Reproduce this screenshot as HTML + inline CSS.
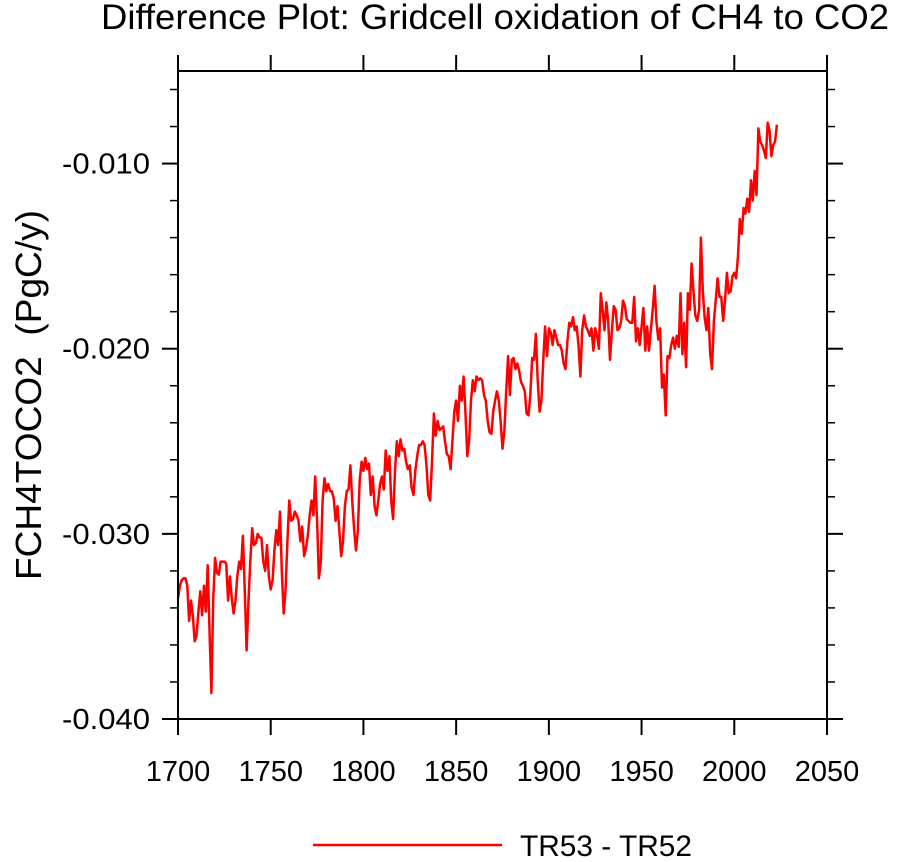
<!DOCTYPE html>
<html><head><meta charset="utf-8"><style>
body{margin:0;background:#fff;}
svg text{font-family:"Liberation Sans",Arial,sans-serif;fill:#000;}
</style></head><body>
<svg id="chart" width="901" height="857" viewBox="0 0 901 857" xmlns="http://www.w3.org/2000/svg">
<text x="495" y="29" font-size="35" text-anchor="middle" textLength="788" lengthAdjust="spacingAndGlyphs">Difference Plot: Gridcell oxidation of CH4 to CO2</text>
<text transform="translate(41,395) rotate(-90)" font-size="36" text-anchor="middle" textLength="370" lengthAdjust="spacingAndGlyphs">FCH4TOCO2&#160; (PgC/y)</text>
<g id="axes"></g>
<polyline id="series" fill="none" stroke="#ff0000" stroke-width="2.5" stroke-linejoin="round"/>
<rect x="178" y="71" width="649" height="648" fill="none" stroke="#000" stroke-width="2"/>
<line x1="313" y1="845" x2="502" y2="845" stroke="#ff0000" stroke-width="2.5"/>
<text x="520" y="856" font-size="30" textLength="172" lengthAdjust="spacingAndGlyphs">TR53 - TR52</text>
</svg>
<script>
const startYear = 1700;
const values = [
-33.5,-32.8,-32.5,-32.4,-32.4,-32.8,-34.7,-33.6,-34.4,-35.8,-35.5,-34.2,-33.1,-34.4,-32.8,-34.2,-31.7,-35.2,-38.6,-33.6,
-31.3,-32.1,-32.2,-31.5,-31.5,-31.5,-31.6,-33.6,-32.3,-33.5,-34.3,-33.6,-32.3,-31.5,-31.9,-30.1,-33.1,-36.3,-33.6,-31.5,
-29.7,-30.6,-30.5,-30.0,-30.2,-30.2,-31.5,-32.0,-30.6,-32.3,-33.0,-32.5,-30.9,-29.8,-30.6,-28.8,-32.0,-34.3,-33.1,-30.4,
-28.2,-29.3,-29.2,-28.8,-29.0,-29.3,-30.4,-29.6,-31.2,-30.8,-30.1,-29.0,-28.2,-29.0,-26.9,-29.3,-32.4,-31.5,-28.2,-27.0,
-27.7,-27.3,-27.7,-27.7,-28.1,-29.3,-28.5,-29.8,-31.2,-30.4,-28.5,-27.7,-27.6,-26.3,-28.3,-29.8,-30.9,-29.8,-27.1,-26.1,
-26.6,-25.9,-26.5,-26.2,-27.9,-26.9,-28.5,-29.0,-28.2,-27.3,-26.9,-27.6,-25.5,-26.6,-25.8,-28.2,-29.2,-26.6,-25.0,-25.8,
-24.9,-25.5,-25.4,-26.1,-26.5,-26.3,-27.5,-27.9,-26.6,-25.8,-25.2,-25.2,-25.0,-25.2,-26.3,-27.9,-28.2,-26.1,-23.5,-24.7,
-23.9,-24.4,-24.3,-24.2,-25.0,-25.7,-25.8,-26.5,-25.0,-23.4,-22.8,-23.9,-22.0,-22.8,-21.5,-23.4,-25.8,-25.0,-22.8,-21.7,
-22.3,-21.5,-21.7,-21.6,-21.7,-22.5,-22.8,-23.9,-24.5,-24.6,-23.4,-22.8,-22.3,-22.8,-23.9,-25.4,-24.4,-22.3,-20.4,-22.5,
-20.6,-20.5,-21.1,-20.8,-21.2,-21.8,-22.0,-22.3,-23.5,-23.6,-22.5,-20.5,-20.6,-19.2,-21.7,-23.4,-22.8,-20.6,-18.8,-20.4,
-18.9,-19.1,-19.8,-19.0,-19.4,-19.8,-19.8,-20.1,-20.8,-21.1,-19.6,-18.6,-18.8,-18.3,-19.0,-18.8,-19.8,-21.5,-19.0,-18.2,
-18.8,-19.0,-19.3,-18.9,-20.1,-18.9,-19.3,-20.0,-17.0,-17.9,-19.0,-17.5,-18.5,-20.6,-19.0,-17.7,-17.9,-19.0,-18.9,-18.5,
-17.4,-17.7,-18.4,-18.5,-18.6,-18.6,-17.2,-19.6,-18.9,-19.8,-18.8,-17.8,-20.1,-18.8,-20.1,-19.0,-17.9,-16.6,-18.5,-19.5,
-18.9,-22.1,-21.4,-23.6,-20.4,-20.5,-19.8,-19.4,-20.0,-19.3,-19.9,-17.0,-20.3,-18.6,-21.0,-17.0,-17.9,-15.4,-16.9,-18.2,
-18.5,-17.9,-14.0,-16.9,-18.3,-19.0,-17.8,-20.3,-21.1,-18.5,-17.4,-16.2,-17.2,-17.2,-18.5,-17.4,-15.9,-17.0,-16.9,-16.1,
-15.9,-16.2,-15.0,-13.0,-13.8,-12.4,-12.7,-11.9,-12.6,-10.9,-12.0,-10.4,-11.7,-8.1,-8.8,-9.0,-9.3,-9.7,-7.8,-8.2,
-9.6,-9.0,-8.8,-7.9
];
const valueScale = 0.001;
const xTicks = [1700,1750,1800,1850,1900,1950,2000,2050];
const yTicks = [-0.040,-0.030,-0.020,-0.010];
const yTickLabels = ["-0.040","-0.030","-0.020","-0.010"];
const yMinorTicks = [-0.038,-0.036,-0.034,-0.032,-0.028,-0.026,-0.024,-0.022,-0.018,-0.016,-0.014,-0.012,-0.008,-0.006];

const X0=178,X1=827,Y0=719,Y1=71;
const xMin=1700,xMax=2050,yMin=-0.040,yMax=-0.005;
function xs(v){return X0+(v-xMin)/(xMax-xMin)*(X1-X0);}
function ys(v){return Y0-(v-yMin)/(yMax-yMin)*(Y0-Y1);}
const NS="http://www.w3.org/2000/svg";
const g=document.getElementById('axes');
function mk(tag,attrs){const e=document.createElementNS(NS,tag);for(const k in attrs)e.setAttribute(k,attrs[k]);g.appendChild(e);return e;}
xTicks.forEach(t=>{
  const x=xs(t);
  const a=mk('line',{x1:x,y1:Y0,x2:x,y2:Y0+16,stroke:'#000','stroke-width':2});
  
  
  const b=mk('line',{x1:x,y1:Y1,x2:x,y2:Y1-16,stroke:'#000','stroke-width':2});
  
  
  const tx=mk('text',{x:x,y:781,'font-size':29,'text-anchor':'middle'});
  tx.textContent=String(t);
  
  
});
yTicks.forEach((t,i)=>{
  const y=ys(t);
  const a=mk('line',{x1:X0-16,y1:y,x2:X0,y2:y,stroke:'#000','stroke-width':2});
  
  
  const b=mk('line',{x1:X1,y1:y,x2:X1+16,y2:y,stroke:'#000','stroke-width':2});
  
  
  const tx=mk('text',{x:62,y:y+10,'font-size':29,textLength:88,lengthAdjust:'spacingAndGlyphs'});
  tx.textContent=yTickLabels[i];
  
  
});
yMinorTicks.forEach(t=>{
  const y=ys(t);
  const a=mk('line',{x1:X0-8,y1:y,x2:X0,y2:y,stroke:'#000','stroke-width':1.5});
  
  
  const b=mk('line',{x1:X1,y1:y,x2:X1+8,y2:y,stroke:'#000','stroke-width':1.5});
  
  
});
const pts=values.map((v,i)=>xs(startYear+i).toFixed(1)+','+ys(v*valueScale).toFixed(1)).join(' ');
document.getElementById('series').setAttribute('points',pts);
</script>
</body></html>
